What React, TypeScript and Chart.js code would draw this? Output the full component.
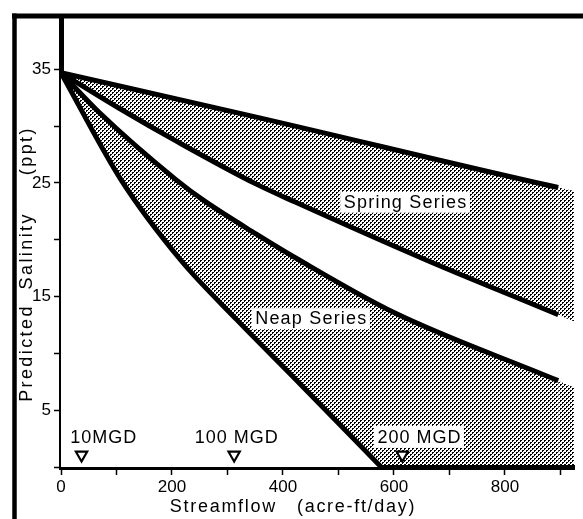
import React, { useEffect, useRef } from 'react';
import { Chart, registerables } from 'chart.js';

Chart.register(...registerables);

// Streamflow (acre-ft/day) and predicted salinity (ppt)
const springUpperFlow = [0, 352, 896, 925];
const springUpperSal = [34.7, 30.8, 24.6, 24.3];

const springLowerFlow = [0, 104, 211, 352, 423, 659, 896, 925];
const springLowerSal = [34.7, 31.6, 28.6, 24.9, 23.3, 18.2, 13.4, 12.8];

const neapUpperFlow = [0, 69, 207, 259, 352, 423, 600, 896, 925];
const neapUpperSal = [34.7, 31.2, 25.3, 23.4, 20.5, 18.4, 13.6, 7.6, 7.0];

const neapLowerFlow = [0, 108, 216, 317, 423, 577];
const neapLowerSal = [34.7, 25.3, 18.2, 12.95, 7.7, 0];

// Pumping-rate markers
const markerFlow = [37, 312, 615];
const markerSal = [1.06, 1.06, 1.06];
const markerLabels = ['10MGD', '100 MGD', '200 MGD'];
const markerLabelFlow = [76, 316, 645];
const markerLabelSal = [2.65, 2.65, 2.65];

// Band labels
const bandLabels = ['Spring Series', 'Neap Series'];
const bandLabelFlow = [620, 450];
const bandLabelSal = [23.35, 13.1];

const xTitle = 'Streamflow   (acre-ft/day)';
const yTitle = 'Predicted  Salinity     (ppt)';

const pts = (xs: number[], ys: number[]) => xs.map((x, i) => ({ x, y: ys[i] }));

export default function App() {
  const ref = useRef<HTMLCanvasElement>(null);

  useEffect(() => {
    const canvas = ref.current!;
    const tile = document.createElement('canvas');
    tile.width = 4;
    tile.height = 4;
    const tctx = tile.getContext('2d')!;
    tctx.fillStyle = '#000';
    tctx.fillRect(0, 0, 2, 1);
    tctx.fillRect(0, 1, 1, 1);
    tctx.fillRect(2, 2, 2, 1);
    tctx.fillRect(2, 3, 1, 1);
    const pattern = canvas.getContext('2d')!.createPattern(tile, 'repeat')!;

    const curve = (xs: number[], ys: number[], fill: any, bg: any, hideLast: boolean, order = 0) => {
      const n = xs.length;
      return {
        data: pts(xs, ys),
        order,
        borderColor: '#000',
        borderWidth: 5,
        borderCapStyle: 'butt',
        pointRadius: 0,
        cubicInterpolationMode: 'monotone',
        backgroundColor: bg,
        fill,
        segment: {
          borderColor: (ctx: any) => (hideLast && ctx.p1DataIndex === n - 1 ? 'rgba(0,0,0,0)' : '#000'),
        },
      };
    };

    const FONT = 'Liberation Sans, Arial, sans-serif';

    const annotate = {
      id: 'annotate',
      beforeDatasetsDraw(chart: any) {
        const { ctx, scales } = chart;
        ctx.save();
        ctx.textAlign = 'center';
        ctx.textBaseline = 'middle';
        ctx.fillStyle = '#000';
        ctx.font = `18px ${FONT}`;
        (ctx as any).letterSpacing = '1.2px';
        bandLabels.forEach((t, i) => {
          const px = scales.x.getPixelForValue(bandLabelFlow[i]);
          const py = scales.y.getPixelForValue(bandLabelSal[i]);
          const w = ctx.measureText(t).width;
          ctx.fillStyle = '#fff';
          ctx.fillRect(px - w / 2 - 3, py - 10, w + 6, 21);
          ctx.fillStyle = '#000';
          ctx.fillText(t, px + 0.6, py + 1);
        });
        (ctx as any).letterSpacing = '1px';
        markerLabels.forEach((t, i) => {
          const px = scales.x.getPixelForValue(markerLabelFlow[i]);
          const py = scales.y.getPixelForValue(markerLabelSal[i]);
          const w = ctx.measureText(t).width;
          ctx.fillStyle = '#fff';
          ctx.fillRect(px - w / 2 - 3, py - 11, w + 6, 22);
          ctx.fillStyle = '#000';
          ctx.fillText(t, px + 0.5, py + 1);
        });
        (ctx as any).letterSpacing = '0px';
        ctx.restore();
      },
      afterDraw(chart: any) {
        const { ctx, width, height } = chart;
        ctx.save();
        ctx.strokeStyle = '#000';
        ctx.lineWidth = 5;
        ctx.beginPath();
        ctx.moveTo(12, 16);
        ctx.lineTo(width, 16);
        ctx.stroke();
        ctx.lineWidth = 4.5;
        ctx.beginPath();
        ctx.moveTo(14.5, 13.5);
        ctx.lineTo(14.5, height);
        ctx.stroke();

        ctx.fillStyle = '#000';
        ctx.textAlign = 'center';
        ctx.textBaseline = 'middle';
        ctx.font = `18px ${FONT}`;
        (ctx as any).letterSpacing = '1.7px';
        ctx.fillText(xTitle, 293, 507);
        (ctx as any).letterSpacing = '2.4px';
        ctx.translate(27.5, 264);
        ctx.rotate(-Math.PI / 2);
        ctx.fillText(yTitle, 0, 0);
        (ctx as any).letterSpacing = '0px';
        ctx.restore();
      },
    };

    const tickFont = { family: FONT, size: 17 };

    const chart = new Chart(canvas, {
      type: 'line',
      data: {
        datasets: [
          curve(springUpperFlow, springUpperSal, false, 'rgba(0,0,0,0)', true),
          curve(springLowerFlow, springLowerSal, '-1', pattern, true),
          curve(neapUpperFlow, neapUpperSal, { value: 0 }, pattern, true, 1),
          curve(neapLowerFlow, neapLowerSal, { value: 0 }, '#fff', false),
          {
            data: pts(markerFlow, markerSal),
            showLine: false,
            pointStyle: 'triangle',
            rotation: 180,
            pointRadius: 6.5,
            pointBorderWidth: 2.2,
            pointBorderColor: '#000',
            pointBackgroundColor: '#fff',
            borderColor: '#000',
            backgroundColor: '#fff',
            fill: false,
          },
        ] as any,
      },
      options: {
        animation: false,
        responsive: false,
        devicePixelRatio: 1,
        layout: { padding: { top: 16, left: 0, right: 0, bottom: 0 } },
        plugins: {
          legend: { display: false },
          tooltip: { enabled: false },
          filler: { drawTime: 'beforeDatasetsDraw', propagate: false },
        } as any,
        scales: {
          x: {
            type: 'linear',
            min: 0,
            max: 925,
            z: 1,
            afterFit: (s: any) => {
              s.height = 52;
            },
            border: { display: true, color: '#000', width: 5 },
            grid: {
              display: true,
              drawOnChartArea: false,
              drawTicks: true,
              tickLength: 8,
              tickColor: '#000',
              tickWidth: 1.5,
            },
            ticks: {
              stepSize: 100,
              includeBounds: false,
              autoSkip: false,
              maxRotation: 0,
              color: '#000',
              padding: 2,
              font: tickFont,
              callback: (v: any) => (v % 200 === 0 ? String(v) : ''),
            },
          },
          y: {
            type: 'linear',
            min: 0,
            max: 39.7,
            z: 1,
            afterFit: (s: any) => {
              s.width = 61;
            },
            border: { display: true, color: '#000', width: 5 },
            grid: {
              display: true,
              drawOnChartArea: false,
              drawTicks: true,
              tickLength: 7,
              tickColor: '#000',
              tickWidth: 1.5,
            },
            ticks: {
              stepSize: 5,
              includeBounds: false,
              autoSkip: false,
              color: '#000',
              padding: 3,
              font: tickFont,
              callback: (v: any) => (v % 10 === 5 ? String(v) : ''),
            },
          },
        } as any,
      },
      plugins: [annotate],
    });
    return () => chart.destroy();
  }, []);

  return (
    <div style={{ position: 'absolute', left: 0, top: 0, width: 583, height: 519, background: '#fff', overflow: 'hidden' }}>
      <canvas ref={ref} width={583} height={519} style={{ display: 'block', width: 583, height: 519 }} />
    </div>
  );
}
